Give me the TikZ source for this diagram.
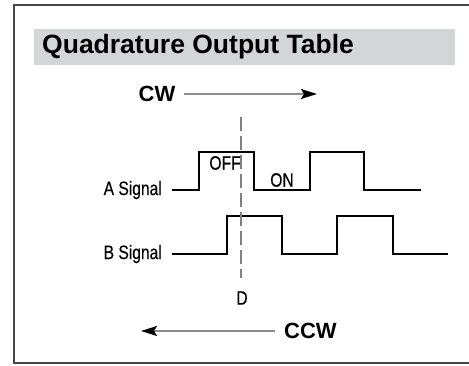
\documentclass[tikz,border=0pt]{standalone}
\usepackage{fontspec}
\setmainfont{Liberation Sans}
\newfontfamily\condfont[FakeStretch=0.8,FakeBold=0.4]{Liberation Sans}
\usetikzlibrary{arrows.meta}
\definecolor{bandgray}{RGB}{212,213,214}
\definecolor{framegray}{RGB}{70,70,70}
\tikzstyle{signal}=[line width=2pt,line join=miter]
\tikzstyle{marker}=[line width=1.8pt,gray,dash pattern=on 14pt off 5pt]
\tikzstyle{dirarrow}=[line width=1.8pt,gray!90,-{Stealth[black,length=16pt,width=10pt,inset=3pt]}]
\tikzstyle{siglabel}=[font=\condfont\fontsize{19.5}{22}\selectfont,inner sep=0pt]
\tikzstyle{dirlabel}=[font=\bfseries\fontsize{22}{26}\selectfont,inner sep=0pt]
\newcommand{\drawwave}[5]{
% #1 label node, #2 low level, #3 high level, #4 rise/fall pairs, #5 end
\draw[signal] ([xshift=10pt]#1.east)
  \foreach \r/\f in {#4} { -| (\r,#3) -| (\f,#2) } -- (#5,#2);
}

\begin{document}
\begin{tikzpicture}[x=1pt,y=-1pt]
	\useasboundingbox (0,0) rectangle (469,366);
	% frame and title band
	\draw[framegray,line width=2pt] (469,5) -- (14,5) -- (14,363) -- (469,363);
	\fill[bandgray] (34,29) rectangle (455,65);
	\node[anchor=west,inner sep=0pt,font=\bfseries\fontsize{26.5}{30}\selectfont] (title) at (42,47) {Quadrature Output Table};

	% direction labels
	\node[dirlabel] (cw) at (157,94) {CW};
	\coordinate (cwend) at (317,94);
	\draw[dirarrow] ([xshift=8pt]cw.east) -- (cwend);
	\node[dirlabel,anchor=west] (ccw) at (284,331) {CCW};
	\coordinate (ccwend) at (141,331);
	\draw[dirarrow] ([xshift=-9pt]ccw.west) -- (ccwend);

	% signals
	\node[siglabel,anchor=east] (asig) at (162,190) {A Signal};
	\node[siglabel,anchor=east] (bsig) at (162,254) {B Signal};
	\drawwave{asig}{190}{152}{199/254,310/364}{421}
	\drawwave{bsig}{254}{216}{227/282,337/393}{448}
	\node[siglabel] (off) at (225,163) {OFF};
	\node[siglabel] (on) at (282,180) {ON};

	% marker line
	\node[siglabel] (d) at (242,298) {D};
	\coordinate (dtop) at (241,117);
	\draw[marker] (dtop) -- (d.north -| dtop) [shorten >=13pt];
\end{tikzpicture}
\end{document}
